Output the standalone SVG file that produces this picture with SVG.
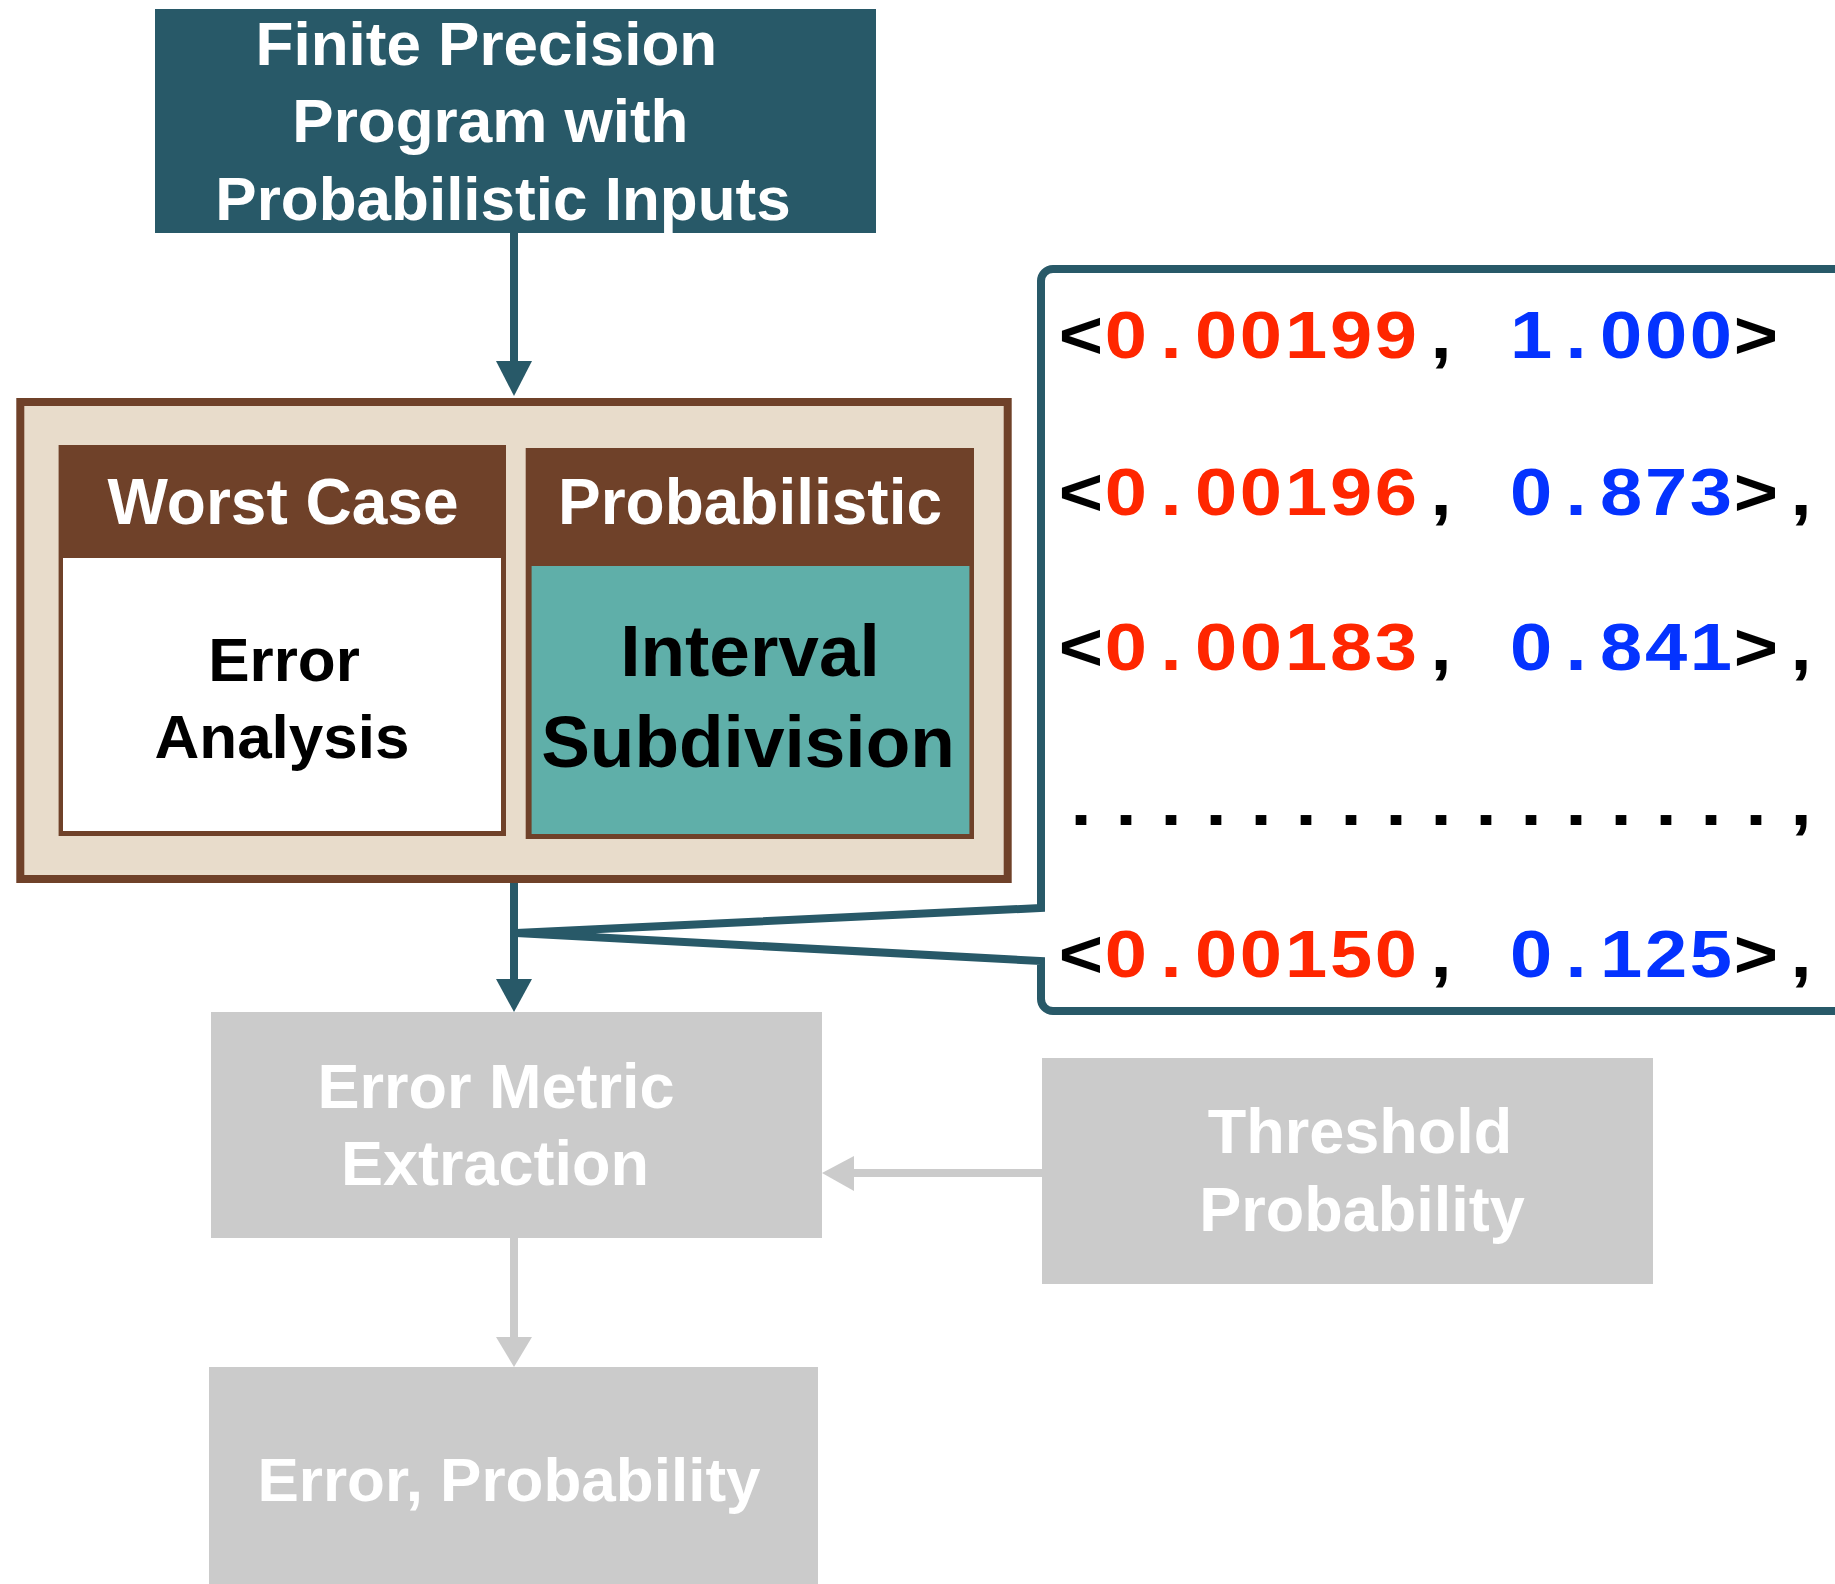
<svg xmlns="http://www.w3.org/2000/svg" width="1835" height="1584" viewBox="0 0 1835 1584">
<style>
.sans{font-family:"Liberation Sans",Arial,sans-serif;font-weight:bold;}
.mono{font-family:"Liberation Sans",Arial,sans-serif;font-weight:bold;font-size:66px;text-anchor:middle;}
.w{fill:#ffffff;}
.k{fill:#000000;}
.r{fill:#FF2600;}
.b{fill:#0433FF;}
.teal{stroke:#285968;stroke-width:8;fill:none;}
.grey{stroke:#CBCBCB;stroke-width:8;fill:none;}
</style>
<rect width="1835" height="1584" fill="#ffffff"/>

<g id="input">
<rect x="155" y="9" width="721" height="224" fill="#285968"/>
<text class="sans w" font-size="62" text-anchor="middle">
<tspan x="495" y="65">Finite Precision</tspan>
<tspan x="499" y="142">Program with</tspan>
<tspan x="503" y="220">Probabilistic Inputs</tspan>
</text>
</g>

<g id="analysis">
<rect x="20.3" y="402" width="987.4" height="477" fill="#E8DCCB" stroke="#6F4129" stroke-width="8"/>
<g id="worst-case">
<rect x="58.6" y="445" width="447.4" height="391" fill="#6F4129"/>
<rect x="63" y="558" width="438" height="273" fill="#ffffff"/>
<text class="sans w" font-size="64" x="283" y="524" text-anchor="middle">Worst Case</text>
<text class="sans k" font-size="62" text-anchor="middle"><tspan x="284" y="681">Error</tspan><tspan x="282" y="758">Analysis</tspan></text>
</g>
<g id="probabilistic">
<rect x="525.7" y="448" width="448.3" height="391" fill="#6F4129"/>
<rect x="531.6" y="566" width="437.8" height="268" fill="#5FAFA9"/>
<text class="sans w" font-size="64" x="750" y="524" text-anchor="middle">Probabilistic</text>
<text class="sans k" font-size="73" text-anchor="middle"><tspan x="750" y="676">Interval</tspan><tspan x="748" y="767">Subdivision</tspan></text>
</g>
</g>

<g id="intervals">
<path class="teal" d="M1840 269 H1053 A12 12 0 0 0 1041 281 V908 L516 933 L1041 961 V999 A12 12 0 0 0 1053 1011 H1840" stroke-linejoin="miter"/>
<g transform="scale(1.15,1)">
<text class="mono" y="358"><tspan class="k" x="940">&lt;</tspan><tspan class="r" x="979.1 1018.3 1057.4 1096.5 1135.7 1174.8 1213.9">0.00199</tspan><tspan class="k" x="1253">,</tspan><tspan class="b" x="1331.3 1370.4 1409.6 1448.7 1487.8">1.000</tspan><tspan class="k" x="1527">&gt;</tspan></text>
<text class="mono" y="515"><tspan class="k" x="940">&lt;</tspan><tspan class="r" x="979.1 1018.3 1057.4 1096.5 1135.7 1174.8 1213.9">0.00196</tspan><tspan class="k" x="1253">,</tspan><tspan class="b" x="1331.3 1370.4 1409.6 1448.7 1487.8">0.873</tspan><tspan class="k" x="1527 1566.1">&gt;,</tspan></text>
<text class="mono" y="670"><tspan class="k" x="940">&lt;</tspan><tspan class="r" x="979.1 1018.3 1057.4 1096.5 1135.7 1174.8 1213.9">0.00183</tspan><tspan class="k" x="1253">,</tspan><tspan class="b" x="1331.3 1370.4 1409.6 1448.7 1487.8">0.841</tspan><tspan class="k" x="1527 1566.1">&gt;,</tspan></text>
<text class="mono k" y="825" x="940 979.1 1018.3 1057.4 1096.5 1135.7 1174.8 1213.9 1253 1292.2 1331.3 1370.4 1409.6 1448.7 1487.8 1527 1566.1">................,</text>
<text class="mono" y="977"><tspan class="k" x="940">&lt;</tspan><tspan class="r" x="979.1 1018.3 1057.4 1096.5 1135.7 1174.8 1213.9">0.00150</tspan><tspan class="k" x="1253">,</tspan><tspan class="b" x="1331.3 1370.4 1409.6 1448.7 1487.8">0.125</tspan><tspan class="k" x="1527 1566.1">&gt;,</tspan></text>
</g>
</g>

<g id="metric">
<rect x="211" y="1012" width="611" height="226" fill="#CBCBCB"/>
<text class="sans w" font-size="63" text-anchor="middle"><tspan x="496" y="1108">Error Metric</tspan><tspan x="495" y="1185">Extraction</tspan></text>
</g>

<g id="threshold">
<rect x="1042" y="1058" width="611" height="226" fill="#CBCBCB"/>
<text class="sans w" font-size="63" text-anchor="middle"><tspan x="1360" y="1153">Threshold</tspan><tspan x="1362" y="1231">Probability</tspan></text>
</g>

<g id="result">
<rect x="209" y="1367" width="609" height="230" fill="#CBCBCB"/>
<text class="sans w" font-size="62" x="509" y="1501" text-anchor="middle">Error, Probability</text>
</g>

<g id="connectors">
<line class="teal" x1="514" y1="233" x2="514" y2="363"/>
<polygon points="496,361 532,361 514,396" fill="#285968"/>
<line class="teal" x1="514" y1="883" x2="514" y2="981"/>
<polygon points="496,979 532,979 514,1012" fill="#285968"/>
<line class="grey" x1="1042" y1="1173" x2="852" y2="1173"/>
<polygon points="854,1156 854,1191 822,1173" fill="#CBCBCB"/>
<line class="grey" x1="514" y1="1238" x2="514" y2="1339"/>
<polygon points="496,1337 532,1337 514,1367" fill="#CBCBCB"/>
</g>
</svg>
